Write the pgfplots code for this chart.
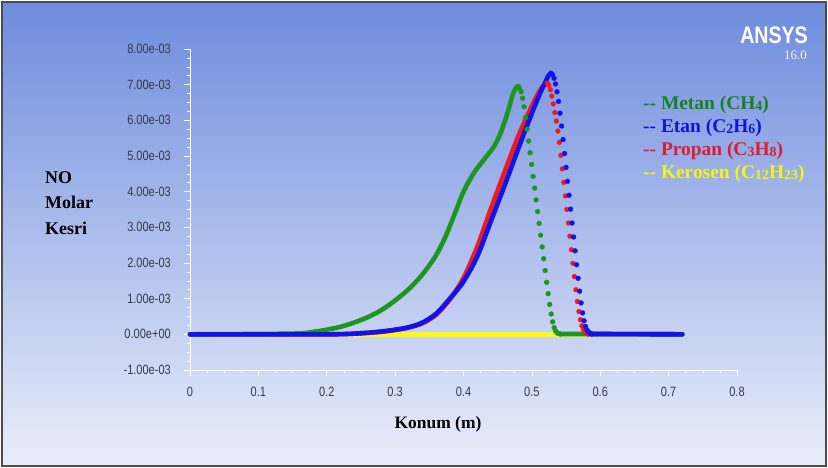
\documentclass[border=0pt]{standalone}
\usepackage{pgfplots}
\pgfplotsset{compat=1.18}
\usepackage{fontspec}
\setmainfont{Liberation Serif}
\newfontfamily\tickfont[FakeStretch=0.82]{Liberation Sans}
\newfontfamily\logofont[FakeStretch=0.82]{Liberation Sans}
\definecolor{bgtop}{RGB}{110,140,222}
\definecolor{bgbot}{RGB}{234,238,250}
\definecolor{tickgray}{RGB}{55,58,70}
\definecolor{cgreen}{RGB}{28,150,28}
\definecolor{cblue}{RGB}{18,18,235}
\definecolor{cred}{RGB}{240,25,30}
\definecolor{cyellow}{RGB}{250,250,20}
\definecolor{lgreen}{RGB}{20,130,30}
\definecolor{lblue}{RGB}{20,20,215}
\definecolor{lred}{RGB}{220,30,50}
\definecolor{lyellow}{RGB}{245,245,20}
\newcommand{\sub}[1]{\raisebox{-1.5bp}{\fontsize{14}{14}\selectfont #1}}
\begin{document}
\begin{tikzpicture}[x=1bp,y=1bp]
\fill[white] (0,0) rectangle (828,468);
\shade[top color=bgtop, bottom color=bgbot] (2,2) rectangle (826,466);
\draw[black!70, line width=1.5bp] (2,2) rectangle (826,466);
\begin{axis}[
  at={(190bp,98bp)}, anchor=south west,
  scale only axis, width=547bp, height=321bp,
  xmin=0, xmax=0.8, ymin=-0.001, ymax=0.008,
  axis x line=bottom, axis y line=left,
  axis line style={-, white, line width=0.8bp},
  every tick/.style={white, line width=0.6bp},
  tick align=outside,
  major tick length=6bp, minor tick length=3.5bp,
  xtick={0,0.1,0.2,0.3,0.4,0.5,0.6,0.7,0.8},
  xticklabels={0,0.1,0.2,0.3,0.4,0.5,0.6,0.7,0.8},
  ytick={-0.001,0,0.001,0.002,0.003,0.004,0.005,0.006,0.007,0.008},
  yticklabels={-1.00e-03,0.00e+00,1.00e-03,2.00e-03,3.00e-03,4.00e-03,5.00e-03,6.00e-03,7.00e-03,8.00e-03},
  minor x tick num=3, minor y tick num=3,
  scaled y ticks=false, scaled x ticks=false,
  ticklabel style={font=\tickfont\fontsize{13.5}{15}\selectfont, text=tickgray},
  yticklabel style={anchor=east, inner sep=0pt, xshift=-13bp},
  xticklabel style={anchor=north, inner sep=0pt, yshift=-11bp},
  clip=false,
]
% Kerosen (C12H23)
\addplot[cyellow, line width=4.6bp, line cap=round] coordinates {(0,0) (0.72,0)};
% Propan (C3H8)
\addplot[cred, line width=4.6bp, line cap=round, line join=round, smooth, tension=0.5] coordinates {
(0,0) (0.20,0) (0.25,0.03e-3) (0.28,0.07e-3) (0.30,0.12e-3) (0.32,0.19e-3) (0.34,0.31e-3)
(0.36,0.55e-3) (0.38,0.98e-3) (0.40,1.58e-3) (0.42,2.45e-3) (0.44,3.52e-3) (0.46,4.55e-3)
(0.48,5.55e-3) (0.50,6.40e-3) (0.512,6.85e-3) (0.52,7.02e-3) (0.5226,7.04e-3)};
\addplot[cred, only marks, mark=*, mark size=2.4bp] coordinates {
(0.5226,7.04e-3) (0.5248,6.98e-3) (0.5270,6.86e-3) (0.5292,6.68e-3) (0.5314,6.46e-3)
(0.5336,6.22e-3) (0.5358,5.98e-3) (0.5380,5.70e-3) (0.5402,5.38e-3) (0.5424,5.02e-3)
(0.5446,4.64e-3) (0.5468,4.26e-3) (0.5490,3.88e-3) (0.5512,3.50e-3) (0.5534,3.12e-3)
(0.5556,2.75e-3) (0.5578,2.37e-3) (0.5600,1.99e-3) (0.5622,1.62e-3) (0.5644,1.25e-3)
(0.5666,0.92e-3) (0.5688,0.64e-3) (0.5710,0.41e-3) (0.5732,0.24e-3) (0.5754,0.13e-3)
(0.5776,0.06e-3) (0.5798,0.03e-3) (0.5820,0.01e-3)};
\addplot[cred, line width=4.6bp, line cap=round] coordinates {(0.5820,0.01e-3) (0.72,0)};
% Metan (CH4)
\addplot[cgreen, line width=4.6bp, line cap=round, line join=round, smooth, tension=0.5] coordinates {
(0,0) (0.15,0.02e-3) (0.18,0.07e-3) (0.20,0.13e-3) (0.22,0.21e-3) (0.24,0.33e-3)
(0.26,0.48e-3) (0.28,0.68e-3) (0.30,0.95e-3) (0.32,1.27e-3) (0.34,1.68e-3) (0.36,2.22e-3)
(0.375,2.80e-3) (0.39,3.52e-3) (0.40,4.00e-3) (0.415,4.52e-3) (0.43,4.90e-3) (0.445,5.28e-3)
(0.455,5.68e-3) (0.465,6.25e-3) (0.472,6.72e-3) (0.477,6.92e-3) (0.480,6.95e-3)};
\addplot[cgreen, only marks, mark=*, mark size=2.4bp] coordinates {
(0.4800,6.95e-3) (0.4820,6.90e-3) (0.4842,6.80e-3) (0.4864,6.62e-3) (0.4886,6.38e-3)
(0.4908,6.08e-3) (0.4930,5.75e-3) (0.4952,5.42e-3) (0.4974,5.09e-3) (0.4996,4.76e-3)
(0.5018,4.43e-3) (0.5040,4.10e-3) (0.5062,3.77e-3) (0.5084,3.44e-3) (0.5106,3.11e-3)
(0.5128,2.78e-3) (0.5150,2.45e-3) (0.5172,2.12e-3) (0.5194,1.79e-3) (0.5216,1.46e-3)
(0.5238,1.14e-3) (0.5260,0.84e-3) (0.5282,0.57e-3) (0.5304,0.35e-3) (0.5326,0.19e-3)
(0.5348,0.09e-3) (0.5370,0.04e-3) (0.5392,0.02e-3) (0.5414,0.01e-3)};
\addplot[cgreen, line width=4.6bp, line cap=round] coordinates {(0.5414,0.01e-3) (0.72,0)};
% Etan (C2H6)
\addplot[cblue, line width=4.6bp, line cap=round, line join=round, smooth, tension=0.5] coordinates {
(0,0) (0.20,0) (0.25,0.03e-3) (0.28,0.08e-3) (0.30,0.13e-3) (0.32,0.20e-3) (0.34,0.33e-3)
(0.36,0.58e-3) (0.38,1.00e-3) (0.40,1.48e-3) (0.42,2.18e-3) (0.44,3.17e-3) (0.46,4.17e-3)
(0.48,5.20e-3) (0.50,6.20e-3) (0.512,6.76e-3) (0.52,7.08e-3) (0.524,7.25e-3) (0.528,7.32e-3)};
\addplot[cblue, only marks, mark=*, mark size=2.4bp] coordinates {
(0.5280,7.32e-3) (0.5302,7.28e-3) (0.5324,7.18e-3) (0.5346,7.02e-3) (0.5368,6.80e-3)
(0.5390,6.53e-3) (0.5412,6.20e-3) (0.5434,5.84e-3) (0.5456,5.46e-3) (0.5478,5.07e-3)
(0.5500,4.68e-3) (0.5522,4.29e-3) (0.5544,3.90e-3) (0.5566,3.51e-3) (0.5588,3.12e-3)
(0.5610,2.73e-3) (0.5632,2.34e-3) (0.5654,1.95e-3) (0.5676,1.57e-3) (0.5698,1.21e-3)
(0.5720,0.88e-3) (0.5742,0.60e-3) (0.5764,0.38e-3) (0.5786,0.22e-3) (0.5808,0.12e-3)
(0.5830,0.06e-3) (0.5852,0.03e-3) (0.5874,0.01e-3)};
\addplot[cblue, line width=4.6bp, line cap=round] coordinates {(0.5874,0.01e-3) (0.72,0)};
\end{axis}
% axis titles
\node[anchor=base west, font=\bfseries\fontsize{18}{25.5}\selectfont, inner sep=0pt]
  at (45,468-183.5) {NO};
\node[anchor=base west, font=\bfseries\fontsize{18}{25.5}\selectfont, inner sep=0pt]
  at (45,468-209) {Molar};
\node[anchor=base west, font=\bfseries\fontsize{18}{25.5}\selectfont, inner sep=0pt]
  at (45,468-234.5) {Kesri};
\node[anchor=base, font=\bfseries\fontsize{17.5}{20}\selectfont, inner sep=0pt]
  at (438,468-429) {Konum (m)};
% legend
\node[anchor=base west, text=lgreen, font=\bfseries\fontsize{19.5}{22}\selectfont, inner sep=0pt]
  at (643,468-109.5) {-{}- Metan (CH\sub{4})};
\node[anchor=base west, text=lblue, font=\bfseries\fontsize{19.5}{22}\selectfont, inner sep=0pt]
  at (643,468-132.5) {-{}- Etan (C\sub{2}H\sub{6})};
\node[anchor=base west, text=lred, font=\bfseries\fontsize{19.5}{22}\selectfont, inner sep=0pt]
  at (643,468-155.5) {-{}- Propan (C\sub{3}H\sub{8})};
\node[anchor=base west, text=lyellow, font=\bfseries\fontsize{19.5}{22}\selectfont, inner sep=0pt]
  at (643,468-178.5) {-{}- Kerosen (C\sub{12}H\sub{23})};
% logo
\node[anchor=base east, text=white, font=\logofont\bfseries\fontsize{24}{24}\selectfont, inner sep=0pt]
  at (808,468-44) {ANSYS};
\node[anchor=base east, text=white!92!gray, font=\fontsize{13}{13}\selectfont, inner sep=0pt]
  at (807,468-60) {16.0};
\end{tikzpicture}
\end{document}
